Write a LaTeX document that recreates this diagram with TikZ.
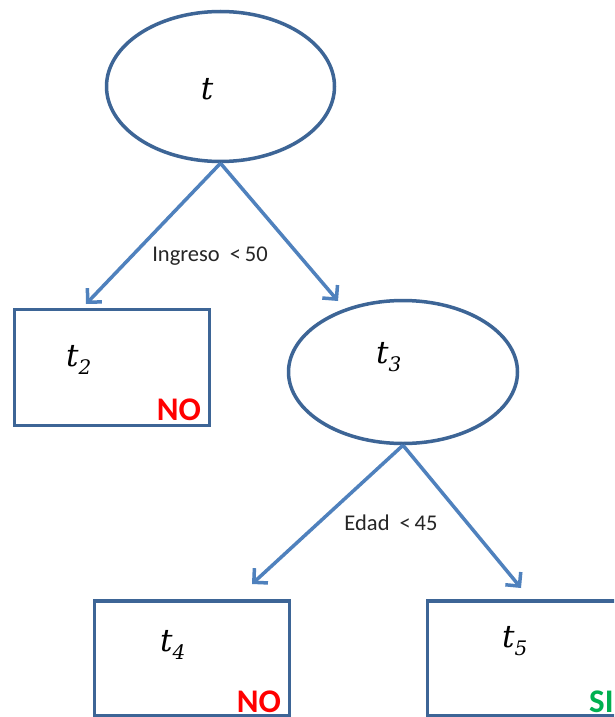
\documentclass[tikz,border=0pt]{standalone}
\usepackage{fontspec}
\setmainfont{Carlito}
\newfontfamily\varfont{DejaVu Serif}
\usetikzlibrary{arrows.meta,shapes.geometric}
\definecolor{edgeblue}{HTML}{3D6596}
\definecolor{arrowblue}{HTML}{4F81BD}
\definecolor{nored}{HTML}{FF0000}
\definecolor{sigreen}{HTML}{00B050}
\definecolor{labelgray}{HTML}{262626}
% italic node name with a lowered index
\newcommand{\tname}[1]{\textit{t}\raisebox{-0.28em}{\fontsize{20}{20}\selectfont\itshape #1}}
\tikzset{
  decision/.style={ellipse, draw=edgeblue, line width=3.5pt, fill=white, inner sep=0pt},
  leaf/.style={rectangle, draw=edgeblue, line width=3.5pt, fill=white, inner sep=0pt,
               minimum width=195pt, minimum height=116pt},
  nodename/.style={inner sep=0pt, font=\varfont\fontsize{31}{31}\selectfont},
  split/.style={inner sep=0pt, text=labelgray, font=\fontsize{22.5}{22.5}\selectfont},
  verdict/.style={inner sep=0pt, font=\fontsize{33}{33}\selectfont\bfseries},
  branch/.style={draw=arrowblue, line width=3.5pt,
                 -{Straight Barb[length=10pt,width=20pt]}}
}
\begin{document}
\begin{tikzpicture}[x=1pt,y=-1pt]
  \useasboundingbox (0,0) rectangle (614,717);
  \clip (0,0) rectangle (614,717);
  \fill[white] (0,0) rectangle (614,717);

  % decision nodes
  \node[decision, minimum width=228pt, minimum height=150pt] (root) at (220.5,86.5) {};
  \node[decision, minimum width=229pt, minimum height=143pt] (t3) at (403,372) {};

  % leaves
  \node[leaf] (t2) at (112,367.5) {};
  \node[leaf, minimum height=115pt] (t4) at (192,658.5) {};
  \node[leaf, minimum height=115pt] (t5) at (525,658.5) {};

  % node names
  \node[nodename, anchor=base] (lt)  at (207,99)  {\textit{t}};
  \node[nodename, anchor=base west] (lt2) at (66,366)  {\tname{2}};
  \node[nodename, anchor=base west] (lt3) at (376,363) {\tname{3}};
  \node[nodename, anchor=base west] (lt4) at (160,651) {\tname{4}};
  \node[nodename, anchor=base west] (lt5) at (502,647) {\tname{5}};

  % class labels
  \node[verdict, text=nored] (no2) at (179,410) {NO};
  \node[verdict, text=nored] (no4) at (259,702) {NO};
  \node[verdict, text=sigreen, anchor=west] (si5) at (589,702) {SI};

  % arrow end points
  \coordinate (a2) at (86,304);
  \coordinate (a3) at (338,301);
  \coordinate (a4) at (252,584);
  \coordinate (a5) at (521,588);

  % branches
  \draw[branch] (root.south) -- (a2);
  \draw[branch] (root.south) -- (a3);
  \draw[branch] (t3.south) -- (a4);
  \draw[branch] (t3.south) -- (a5);

  % split conditions
  \node[split] (c1) at (210,256) {Ingreso\ \ <\,50};
  \node[split] (c2) at (391,523) {Edad\ \ <\,45};
\end{tikzpicture}
\end{document}
